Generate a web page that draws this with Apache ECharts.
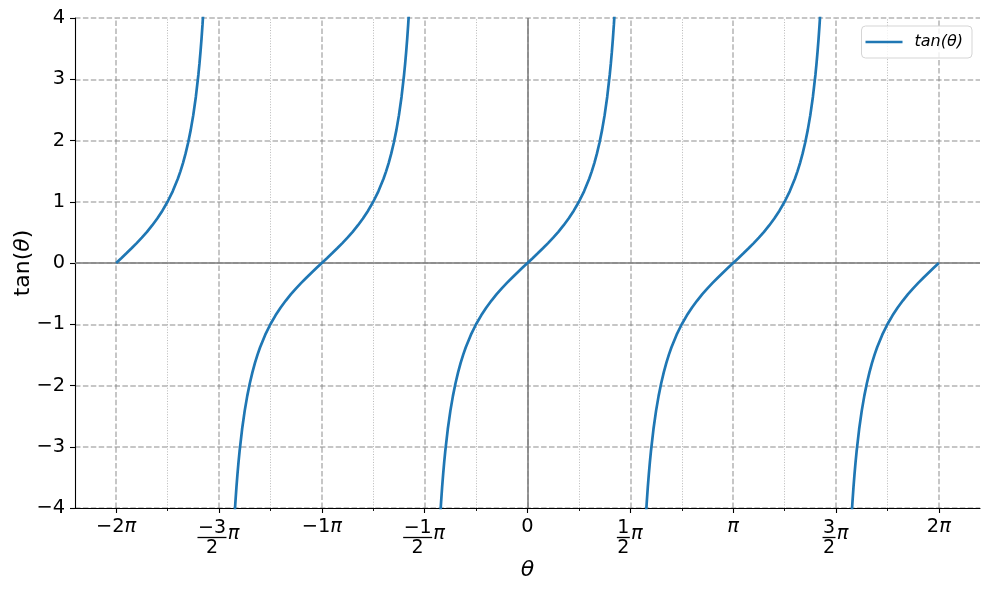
<!DOCTYPE html>
<html><head><meta charset="utf-8">
<script src="https://cdn.jsdelivr.net/npm/echarts@6/dist/echarts.min.js"></script>
<style>html,body{margin:0;padding:0;background:#fff}#c{width:989px;height:590px}</style>
</head><body><div id="c"></div>
<script>
// theta in units of pi; null marks a break at an asymptote
const thetaPi = [
  -2, -1.975, -1.95, -1.925, -1.9, -1.875, -1.85, -1.825, -1.8, -1.775, -1.75, -1.725, -1.7, -1.6875, -1.675, -1.6625, -1.65, -1.6375, -1.625, -1.6125, -1.6, -1.595, -1.59, -1.585, -1.58, -1.575, -1.57, -1.56, -1.55,
  -1.5,
  -1.45, -1.44, -1.43, -1.425, -1.42, -1.415, -1.41, -1.405, -1.4, -1.3875, -1.375, -1.3625, -1.35, -1.3375, -1.325, -1.3125, -1.3, -1.275, -1.25, -1.225, -1.2, -1.175, -1.15, -1.125, -1.1, -1.075, -1.05, -1.025, -1,
  -0.975, -0.95, -0.925, -0.9, -0.875, -0.85, -0.825, -0.8, -0.775, -0.75, -0.725, -0.7, -0.6875, -0.675, -0.6625, -0.65, -0.6375, -0.625, -0.6125, -0.6, -0.595, -0.59, -0.585, -0.58, -0.575, -0.57, -0.56, -0.55,
  -0.5,
  -0.45, -0.44, -0.43, -0.425, -0.42, -0.415, -0.41, -0.405, -0.4, -0.3875, -0.375, -0.3625, -0.35, -0.3375, -0.325, -0.3125, -0.3, -0.275, -0.25, -0.225, -0.2, -0.175, -0.15, -0.125, -0.1, -0.075, -0.05, -0.025, 0,
  0.025, 0.05, 0.075, 0.1, 0.125, 0.15, 0.175, 0.2, 0.225, 0.25, 0.275, 0.3, 0.3125, 0.325, 0.3375, 0.35, 0.3625, 0.375, 0.3875, 0.4, 0.405, 0.41, 0.415, 0.42, 0.425, 0.43, 0.44, 0.45,
  0.5,
  0.55, 0.56, 0.57, 0.575, 0.58, 0.585, 0.59, 0.595, 0.6, 0.6125, 0.625, 0.6375, 0.65, 0.6625, 0.675, 0.6875, 0.7, 0.725, 0.75, 0.775, 0.8, 0.825, 0.85, 0.875, 0.9, 0.925, 0.95, 0.975, 1,
  1.025, 1.05, 1.075, 1.1, 1.125, 1.15, 1.175, 1.2, 1.225, 1.25, 1.275, 1.3, 1.3125, 1.325, 1.3375, 1.35, 1.3625, 1.375, 1.3875, 1.4, 1.405, 1.41, 1.415, 1.42, 1.425, 1.43, 1.44, 1.45,
  1.5,
  1.55, 1.56, 1.57, 1.575, 1.58, 1.585, 1.59, 1.595, 1.6, 1.6125, 1.625, 1.6375, 1.65, 1.6625, 1.675, 1.6875, 1.7, 1.725, 1.75, 1.775, 1.8, 1.825, 1.85, 1.875, 1.9, 1.925, 1.95, 1.975, 2
];
const tanTheta = [
  0, 0.0787, 0.1584, 0.2401, 0.3249, 0.4142, 0.5095, 0.6128, 0.7265, 0.8541, 1, 1.1708, 1.3764, 1.4966, 1.6319, 1.7856, 1.9626, 2.1692, 2.4142, 2.7107, 3.0777, 3.2507, 3.4420, 3.6554, 3.8948, 4.1653, 4.4737, 5.2422, 6.3138,
  null,
  -6.3138, -5.2422, -4.4737, -4.1653, -3.8948, -3.6554, -3.4420, -3.2507, -3.0777, -2.7107, -2.4142, -2.1692, -1.9626, -1.7856, -1.6319, -1.4966, -1.3764, -1.1708, -1, -0.8541, -0.7265, -0.6128, -0.5095, -0.4142, -0.3249, -0.2401, -0.1584, -0.0787, 0,
  0.0787, 0.1584, 0.2401, 0.3249, 0.4142, 0.5095, 0.6128, 0.7265, 0.8541, 1, 1.1708, 1.3764, 1.4966, 1.6319, 1.7856, 1.9626, 2.1692, 2.4142, 2.7107, 3.0777, 3.2507, 3.4420, 3.6554, 3.8948, 4.1653, 4.4737, 5.2422, 6.3138,
  null,
  -6.3138, -5.2422, -4.4737, -4.1653, -3.8948, -3.6554, -3.4420, -3.2507, -3.0777, -2.7107, -2.4142, -2.1692, -1.9626, -1.7856, -1.6319, -1.4966, -1.3764, -1.1708, -1, -0.8541, -0.7265, -0.6128, -0.5095, -0.4142, -0.3249, -0.2401, -0.1584, -0.0787, 0,
  0.0787, 0.1584, 0.2401, 0.3249, 0.4142, 0.5095, 0.6128, 0.7265, 0.8541, 1, 1.1708, 1.3764, 1.4966, 1.6319, 1.7856, 1.9626, 2.1692, 2.4142, 2.7107, 3.0777, 3.2507, 3.4420, 3.6554, 3.8948, 4.1653, 4.4737, 5.2422, 6.3138,
  null,
  -6.3138, -5.2422, -4.4737, -4.1653, -3.8948, -3.6554, -3.4420, -3.2507, -3.0777, -2.7107, -2.4142, -2.1692, -1.9626, -1.7856, -1.6319, -1.4966, -1.3764, -1.1708, -1, -0.8541, -0.7265, -0.6128, -0.5095, -0.4142, -0.3249, -0.2401, -0.1584, -0.0787, 0,
  0.0787, 0.1584, 0.2401, 0.3249, 0.4142, 0.5095, 0.6128, 0.7265, 0.8541, 1, 1.1708, 1.3764, 1.4966, 1.6319, 1.7856, 1.9626, 2.1692, 2.4142, 2.7107, 3.0777, 3.2507, 3.4420, 3.6554, 3.8948, 4.1653, 4.4737, 5.2422, 6.3138,
  null,
  -6.3138, -5.2422, -4.4737, -4.1653, -3.8948, -3.6554, -3.4420, -3.2507, -3.0777, -2.7107, -2.4142, -2.1692, -1.9626, -1.7856, -1.6319, -1.4966, -1.3764, -1.1708, -1, -0.8541, -0.7265, -0.6128, -0.5095, -0.4142, -0.3249, -0.2401, -0.1584, -0.0787, 0
];
const xTickValues = [-2, -1.5, -1, -0.5, 0, 0.5, 1, 1.5, 2];
const xTickLabels = ['−2π', '−3/2 π', '−1π', '−1/2 π', '0', '1/2 π', 'π', '3/2 π', '2π'];
const xMinorValues = [-1.75, -1.25, -0.75, -0.25, 0.25, 0.75, 1.25, 1.75];
const yTickValues = [-4, -3, -2, -1, 0, 1, 2, 3, 4];
const seriesName = 'tan(θ)';
const xTitle = 'θ';
const yTitle = 'tan(θ)';

const FONT = 'DejaVu Sans';
const FS = 19.4;     // tick labels
const FF = 19;       // fraction digits
const FT = 22;       // axis titles
const GRID_C = 'rgba(128,128,128,0.6)';

function fmtX(v) {
  const i = xTickValues.findIndex(t => Math.abs(t - v) < 1e-9);
  if (i < 0) return '';
  const s = xTickLabels[i];
  if (s.indexOf('/') < 0) {
    const hasPi = s.endsWith('π');
    const num = hasPi ? s.slice(0, -1) : s;
    return (num ? '{t|' + num + '}' : '') + (hasPi ? '{p|π}' : '');
  }
  const parts = s.split('/');
  const num = parts[0];
  const den = parts[1].replace('π', '').trim();
  const k = num.length > 1 ? 'W' : 'N';
  return '{gap| }\n{num' + k + '|' + num + '}{sp| }\n{bar' + k + '| }{pf|π}\n{den' + k + '|' + den + '}{sp| }';
}

const xRich = {
  t: {fontFamily: FONT, fontSize: FS, lineHeight: 20, color: '#000'},
  p: {fontFamily: FONT, fontSize: FS, lineHeight: 20, color: '#000', fontStyle: 'italic'},
  gap: {fontSize: 1, lineHeight: 3.5, height: 3.5},
  numW: {fontFamily: FONT, fontSize: FF, lineHeight: 15, width: 29, align: 'center', color: '#000'},
  numN: {fontFamily: FONT, fontSize: FF, lineHeight: 15, width: 13, align: 'center', color: '#000'},
  denW: {fontFamily: FONT, fontSize: FF, lineHeight: 17, width: 29, align: 'center', color: '#000'},
  denN: {fontFamily: FONT, fontSize: FF, lineHeight: 17, width: 13, align: 'center', color: '#000'},
  sp: {fontFamily: FONT, fontSize: FF, lineHeight: 15, width: 14},
  barW: {fontSize: 1, lineHeight: 4, width: 29, height: 1.3, backgroundColor: '#000'},
  barN: {fontSize: 1, lineHeight: 4, width: 13, height: 1.3, backgroundColor: '#000'},
  pf: {fontFamily: FONT, fontSize: FS, lineHeight: 4, width: 14, fontStyle: 'italic', color: '#000', padding: [0, 0, 7, 0]}
};

const yTitleRich = '{a|' + yTitle.replace('θ', '}{b|θ}{a|') + '}';

const tanData = thetaPi.map((x, i) => [x, tanTheta[i] === null ? '-' : tanTheta[i]]);

const chart = echarts.init(document.getElementById('c'), null, {renderer: 'canvas'});
chart.setOption({
  animation: false,
  backgroundColor: '#fff',
  grid: {left: 75, right: 9, top: 18, bottom: 82, containLabel: false, outerBoundsMode: 'none'},
  legend: {
    data: [{name: seriesName, icon: 'rect'}],
    right: 17, top: 26,
    itemWidth: 37, itemHeight: 2.7,
    padding: [8, 9, 8, 4],
    borderColor: '#d5d5d5', borderWidth: 1, borderRadius: 4,
    backgroundColor: 'rgba(255,255,255,0.8)',
    textStyle: {fontFamily: FONT, fontSize: 16, fontStyle: 'italic', color: '#000', padding: [0, 0, 0, 7]}
  },
  xAxis: [{
    type: 'value', min: -2.2, max: 2.2, position: 'bottom',
    name: xTitle, nameLocation: 'middle', nameGap: 51, nameMoveOverlap: false,
    nameTextStyle: {fontFamily: FONT, fontSize: FT, fontStyle: 'italic', color: '#000'},
    axisLine: {show: true, onZero: false, lineStyle: {color: '#000', width: 1.1}},
    axisTick: {show: true, customValues: xTickValues, length: 5, lineStyle: {color: '#000', width: 1.1}},
    axisLabel: {show: true, customValues: xTickValues, margin: 9, formatter: fmtX, rich: xRich, color: '#000'},
    splitLine: {show: false}
  }, {
    type: 'value', min: -2.2, max: 2.2, position: 'bottom',
    axisLine: {show: false, onZero: false},
    axisTick: {show: true, customValues: xMinorValues, length: 3, lineStyle: {color: '#000', width: 0.9}},
    axisLabel: {show: false},
    splitLine: {show: false}
  }],
  yAxis: {
    type: 'value', min: -4, max: 4, interval: 1,
    name: yTitleRich, nameLocation: 'middle', nameGap: 41, nameMoveOverlap: false,
    nameTextStyle: {fontFamily: FONT, fontSize: FT, color: '#000',
      rich: {a: {fontFamily: FONT, fontSize: FT, color: '#000'}, b: {fontFamily: FONT, fontSize: FT, fontStyle: 'italic', color: '#000'}}},
    axisLine: {show: true, onZero: false, lineStyle: {color: '#000', width: 1.1}},
    axisTick: {show: true, length: 5, lineStyle: {color: '#000', width: 1.1}},
    axisLabel: {margin: 10, fontFamily: FONT, fontSize: FS, color: '#000',
      formatter: v => yTickValues.indexOf(v) >= 0 ? String(v).replace('-', '−') : ''},
    splitLine: {show: true, lineStyle: {color: GRID_C, width: 1.5, type: [5.5, 2.4]}}
  },
  series: [
    {
      type: 'line', name: '_minor', data: [], silent: true, z: 1,
      markLine: {z: 1, silent: true, symbol: 'none', label: {show: false}, animation: false,
        lineStyle: {color: 'rgba(128,128,128,0.55)', width: 1, type: [1, 1.65]},
        data: xMinorValues.map(v => ({xAxis: v}))}
    },
    {
      type: 'line', name: '_axes0', data: [], silent: true, z: 1,
      markLine: {z: 1, silent: true, symbol: 'none', label: {show: false}, animation: false,
        lineStyle: {color: 'rgba(128,128,128,0.8)', width: 2, type: 'solid'},
        data: [{xAxis: 0}, {yAxis: 0}]}
    },
    {
      type: 'line', name: '_major', data: [], silent: true, z: 2,
      markLine: {z: 2, silent: true, symbol: 'none', label: {show: false}, animation: false,
        lineStyle: {color: GRID_C, width: 1.5, type: [5.5, 2.4]},
        data: xTickValues.map(v => ({xAxis: v}))}
    },
    {
      type: 'line', name: seriesName, data: tanData, z: 5,
      showSymbol: false, symbol: 'none', connectNulls: false, clip: true,
      lineStyle: {color: '#1f77b4', width: 2.7}, itemStyle: {color: '#1f77b4'}
    }
  ]
});
</script></body></html>
